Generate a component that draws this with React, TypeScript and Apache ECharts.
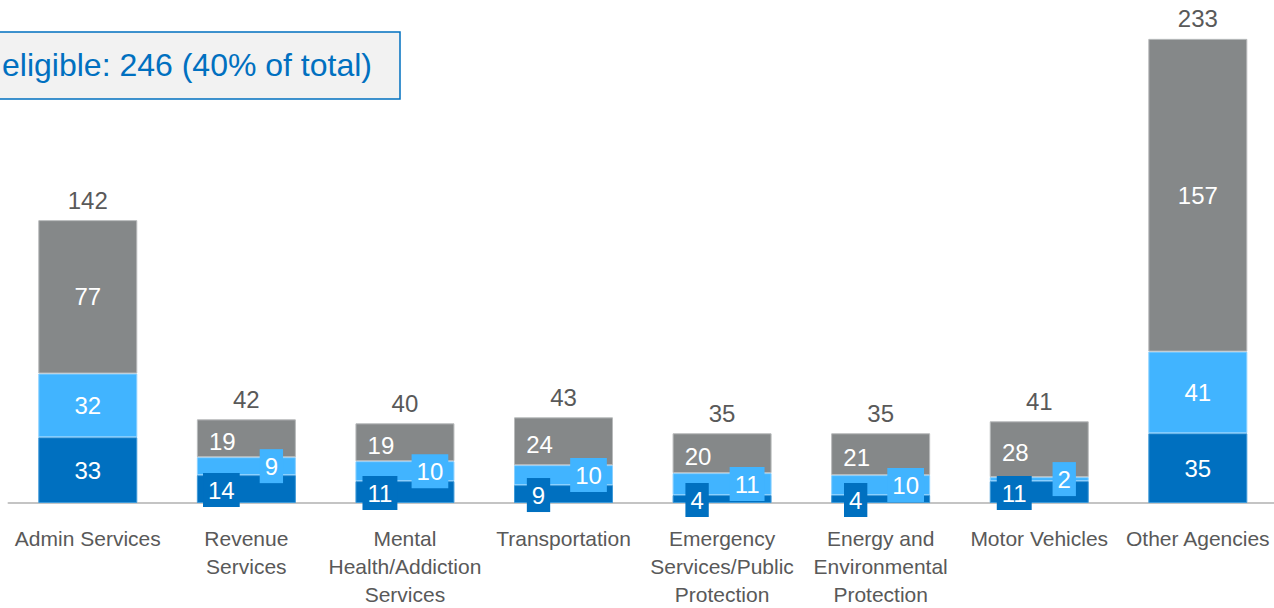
import React, { useEffect, useRef } from "react";
import * as echarts from "echarts";

const categories = [
  "Admin Services",
  "Revenue\nServices",
  "Mental\nHealth/Addiction\nServices",
  "Transportation",
  "Emergency\nServices/Public\nProtection",
  "Energy and\nEnvironmental\nProtection",
  "Motor Vehicles",
  "Other Agencies",
];
const darkValues = [33, 14, 11, 9, 4, 4, 11, 35];
const lightValues = [32, 9, 10, 10, 11, 10, 2, 41];
const grayValues = [77, 19, 19, 24, 20, 21, 28, 157];
const calloutText = "eligible: 246 (40% of total)";

const DARK = "#0070C0";
const LIGHT = "#41B4FF";
const GRAY = "#858889";
const TEXT = "#595959";
const FONT = "'Liberation Sans', Arial, sans-serif";

export default function App() {
  const ref = useRef<HTMLDivElement>(null);
  useEffect(() => {
    if (!ref.current) return;
    const chart = echarts.init(ref.current, undefined, { renderer: "svg" });
    const totals = categories.map((_, i) => darkValues[i] + lightValues[i] + grayValues[i]);
    const wide = (i: number) => totals[i] > 100;

    const darkData = darkValues.map((v, i) =>
      wide(i)
        ? { value: v }
        : { value: v, label: { offset: [-25, 1], backgroundColor: DARK, padding: [5, 5, 5, 5] } }
    );
    const lightData = lightValues.map((v, i) =>
      wide(i)
        ? { value: v }
        : { value: v, label: { offset: [25, 0], backgroundColor: LIGHT, padding: [5, 5, 5, 5] } }
    );
    const grayData = grayValues.map((v, i) =>
      wide(i) ? { value: v } : { value: v, label: { offset: [-24, 3] } }
    );

    const baseLabel = {
      show: true,
      position: "inside",
      color: "#ffffff",
      fontSize: 24,
      fontFamily: FONT,
    };

    chart.setOption({
      animation: false,
      grid: { left: 8.5, width: 1268.6, top: 5, height: 500, containLabel: false },
      xAxis: {
        type: "category",
        data: categories,
        axisLine: { lineStyle: { color: "#c4c4c4", width: 2 } },
        axisTick: { show: false },
        axisLabel: {
          interval: 0,
          color: TEXT,
          fontSize: 21,
          lineHeight: 28,
          fontFamily: FONT,
          margin: 21,
        },
      },
      yAxis: { type: "value", min: 0, max: 250, show: false, splitLine: { show: false } },
      graphic: [
        {
          type: "rect",
          shape: { x: -10, y: 32, width: 410, height: 67 },
          style: { fill: "#f2f2f2", stroke: DARK, lineWidth: 1.5 },
        },
        {
          type: "text",
          x: 2,
          y: 65,
          style: {
            text: calloutText,
            fill: DARK,
            font: `32px ${FONT}`,
            verticalAlign: "middle",
            align: "left",
          },
        },
      ],
      series: [
        {
          name: "dark",
          type: "bar",
          stack: "s",
          barWidth: 99,
          barGap: "-100%",
          data: darkData,
          itemStyle: { color: DARK, borderColor: "#3f9ad8", borderWidth: 1 },
          label: baseLabel,
        },
        {
          name: "light",
          type: "bar",
          stack: "s",
          barWidth: 99,
          barGap: "-100%",
          data: lightData,
          itemStyle: { color: LIGHT, borderColor: "#8ad0ff", borderWidth: 1 },
          label: baseLabel,
        },
        {
          name: "gray",
          type: "bar",
          stack: "s",
          barWidth: 99,
          barGap: "-100%",
          data: grayData,
          itemStyle: { color: GRAY, borderColor: "#b8babb", borderWidth: 1 },
          label: baseLabel,
        },
        {
          name: "total",
          type: "bar",
          barWidth: 99,
          barGap: "-100%",
          silent: true,
          z: 1,
          data: totals,
          itemStyle: { color: "transparent" },
          label: {
            show: true,
            position: "top",
            distance: 8,
            color: TEXT,
            fontSize: 24,
            fontFamily: FONT,
          },
        },
      ],
    });
    return () => chart.dispose();
  }, []);
  return (
    <div
      style={{ position: "absolute", left: 0, top: 0, width: 1274, height: 608, overflow: "hidden" }}
    >
      <div ref={ref} style={{ width: 1280, height: 608 }} />
    </div>
  );
}
